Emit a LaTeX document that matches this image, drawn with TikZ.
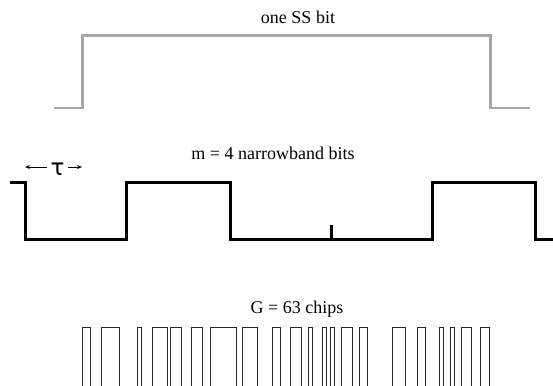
\documentclass[tikz,border=0pt]{standalone}
\usepackage{fontspec}
\setmainfont{Liberation Serif}
\newfontfamily\taufont{DejaVu Sans}
\usetikzlibrary{arrows.meta}
\begin{document}
\begin{tikzpicture}[x=1bp,y=-1bp,
  lbl/.style={inner sep=0pt, anchor=base, font=\fontsize{18bp}{20bp}\selectfont},
  sswave/.style={line width=2.7bp, draw=black!35, line join=miter},
  nbwave/.style={line width=3bp, draw=black, line join=miter},
  chipwave/.style={line width=0.9bp, draw=black!85},
  tauarrow/.style={line width=0.8bp, -{Stealth[length=5bp,width=4bp]}}]
\useasboundingbox (0,0) rectangle (553,385);
% labels
\node[lbl] (ssLabel) at (298,23) {one SS bit};
\node[lbl] (nbLabel) at (273,159) {m = 4 narrowband bits};
\node[lbl] (chipLabel) at (297,313) {G = 63 chips};
% SS bit
\draw[sswave] (54,108) -- (82.7,108) -- (82.7,35.5) -- (490.7,35.5) -- (490.7,108) -- (530,108);
% narrowband bits
\draw[nbwave] (10,182) -- (25,182) -- (25,239.5) -- (126.5,239.5) -- (126.5,182) -- (230,182) -- (230,239.5)
  -- (432,239.5) -- (432,182) -- (535,182) -- (535,239.5) -- (553,239.5);
\draw[nbwave] (331,239.5) -- (331,225);
% tau
\node[inner sep=0pt, anchor=base] (tau) at (57.5,175) {\taufont\fontsize{23bp}{25bp}\selectfont τ};
\coordinate (tauL) at (25,167);
\coordinate (tauR) at (82,167);
\draw[tauarrow] (47,167) -- (tauL);
\draw[tauarrow] (68,167) -- (tauR);
% chips
\foreach \a/\b in {82.5/90, 101/119.5, 137.7/141.7, 152/167.5, 170/181.5, 191.7/202.5,
  210/236, 242.7/257, 272/280, 290.5/301.5, 308.3/312.3, 322.7/326.7, 330/334.3,
  341/352, 359.5/367, 392.5/405, 417.5/425, 439.5/443.7, 450/454.5, 461.7/471.5, 480/489}
  \draw[chipwave] (\a,386) -- (\a,327.5) -- (\b,327.5) -- (\b,386);
\end{tikzpicture}
\end{document}
